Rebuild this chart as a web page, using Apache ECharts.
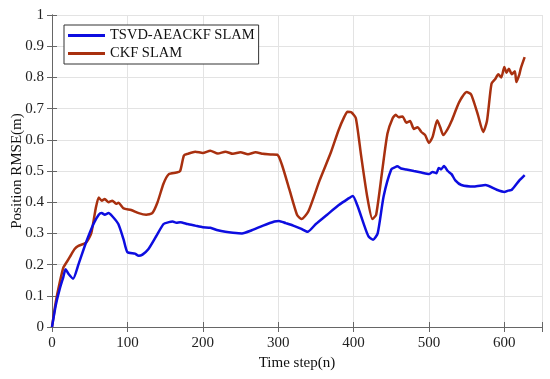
<!DOCTYPE html>
<html><head><meta charset="utf-8">
<script src="https://cdn.jsdelivr.net/npm/echarts@6/dist/echarts.min.js"></script>
<style>html,body{margin:0;padding:0;background:#fff}#c{width:550px;height:379px}</style>
</head><body><div id="c"></div>
<script>
const seriesNames = ['TSVD-AEACKF SLAM', 'CKF SLAM'];
const xTicks = [0, 100, 200, 300, 400, 500, 600];
const yTicks = [0, 0.1, 0.2, 0.3, 0.4, 0.5, 0.6, 0.7, 0.8, 0.9, 1];
const tsvdT = [0,5,10,15,18,22,28,35,45,55,62,66,70,75,80,88,95,100,110,115,120,128,138,148,155,160,165,170,180,190,200,210,220,230,240,252,265,280,295,301,310,320,330,339,350,365,380,392,399,405,415,420,426,432,440,450,455,458,463,470,480,490,500,505,510,513,516,520,525,530,535,543,560,575,590,600,605,610,620,627];
const tsvdV = [0,0.07,0.12,0.16,0.185,0.17,0.155,0.2,0.27,0.33,0.36,0.365,0.36,0.365,0.355,0.33,0.28,0.24,0.235,0.228,0.232,0.25,0.29,0.33,0.336,0.338,0.334,0.336,0.33,0.325,0.32,0.318,0.31,0.305,0.302,0.3,0.31,0.325,0.338,0.34,0.333,0.325,0.315,0.305,0.33,0.36,0.39,0.41,0.42,0.39,0.32,0.29,0.28,0.3,0.42,0.505,0.512,0.515,0.508,0.505,0.5,0.495,0.49,0.497,0.493,0.51,0.505,0.516,0.5,0.49,0.47,0.455,0.45,0.455,0.44,0.433,0.437,0.44,0.47,0.487];
const ckfT = [0,5,10,15,20,25,30,35,45,52,58,62,66,70,75,80,85,88,95,105,115,125,133,140,148,155,165,170,175,180,190,200,210,220,230,240,250,260,270,280,290,299,305,315,325,331,340,355,370,380,388,392,397,403,410,418,425,430,438,445,452,456,460,465,470,475,480,485,490,495,500,505,511,515,519,525,530,540,550,556,565,572,577,583,588,592,596,600,603,606,610,614,616,620,622,627];
const ckfV = [0,0.08,0.14,0.19,0.21,0.23,0.25,0.26,0.27,0.3,0.38,0.415,0.405,0.41,0.4,0.405,0.395,0.398,0.38,0.375,0.365,0.36,0.365,0.4,0.46,0.49,0.495,0.5,0.55,0.555,0.562,0.558,0.565,0.556,0.562,0.555,0.56,0.554,0.56,0.555,0.553,0.552,0.52,0.44,0.36,0.346,0.37,0.47,0.56,0.63,0.675,0.69,0.688,0.67,0.55,0.42,0.346,0.36,0.5,0.62,0.67,0.68,0.672,0.675,0.655,0.66,0.635,0.64,0.625,0.615,0.59,0.61,0.663,0.64,0.615,0.635,0.66,0.72,0.753,0.745,0.68,0.625,0.66,0.78,0.795,0.81,0.8,0.833,0.815,0.828,0.81,0.82,0.785,0.81,0.83,0.865];

const font = 'Liberation Serif';
const pair = (t, v) => t.map((x, i) => [x, v[i]]);
const chart = echarts.init(document.getElementById('c'));
const axisCol = '#666';
chart.setOption({
  animation: false,
  grid: {left: 52, right: 8, top: 15, bottom: 52, containLabel: false, outerBoundsMode: 'none'},
  legend: {
    left: 64, top: 25, orient: 'vertical', itemGap: 3, itemWidth: 37, itemHeight: 3,
    padding: [3, 4, 3, 4], borderColor: '#333', borderWidth: 1, backgroundColor: '#fff',
    textStyle: {fontFamily: font, fontSize: 14.5, color: '#111'},
    icon: 'rect',
    data: seriesNames
  },
  xAxis: [{
    type: 'value', min: 0, max: 650, interval: 100,
    name: 'Time step(n)', nameLocation: 'middle', nameGap: 29, nameMoveOverlap: false,
    nameTextStyle: {fontFamily: font, fontSize: 15, color: '#111'},
    axisLine: {lineStyle: {color: axisCol}},
    axisTick: {inside: true, length: 5, lineStyle: {color: axisCol}},
    axisLabel: {fontFamily: font, fontSize: 15, color: '#222', margin: 9,
      formatter: v => xTicks.includes(v) ? String(v) : ''},
    splitLine: {show: true, lineStyle: {color: '#e3e3e3'}}
  }, {
    type: 'value', position: 'top', min: 0, max: 650, interval: 100,
    axisLine: {show: true, lineStyle: {color: axisCol}},
    axisTick: {show: true, inside: true, length: 5, lineStyle: {color: axisCol}},
    axisLabel: {show: false}, splitLine: {show: false}
  }],
  yAxis: [{
    type: 'value', min: 0, max: 1, interval: 0.1,
    name: 'Position RMSE(m)', nameLocation: 'middle', nameGap: 27, nameMoveOverlap: false,
    nameTextStyle: {fontFamily: font, fontSize: 15, color: '#111'},
    axisLine: {show: true, lineStyle: {color: axisCol}},
    axisTick: {show: true, inside: true, length: 5, lineStyle: {color: axisCol}},
    axisLabel: {fontFamily: font, fontSize: 15, color: '#222', margin: 8,
      formatter: v => { const r = Math.round(v * 10) / 10; return yTicks.includes(r) ? String(r) : ''; }},
    splitLine: {show: true, lineStyle: {color: '#e3e3e3'}}
  }, {
    type: 'value', position: 'right', min: 0, max: 1, interval: 0.1,
    axisLine: {show: true, lineStyle: {color: axisCol}},
    axisTick: {show: true, inside: true, length: 5, lineStyle: {color: axisCol}},
    axisLabel: {show: false}, splitLine: {show: false}
  }],
  series: [{
    name: seriesNames[0], type: 'line', data: pair(tsvdT, tsvdV), showSymbol: false, smooth: 0.2,
    lineStyle: {color: '#0d0de0', width: 2.5}, itemStyle: {color: '#0d0de0'}, z: 3
  }, {
    name: seriesNames[1], type: 'line', data: pair(ckfT, ckfV), showSymbol: false, smooth: 0.2,
    lineStyle: {color: '#a8300f', width: 2.5}, itemStyle: {color: '#a8300f'}, z: 2
  }]
});
</script></body></html>
